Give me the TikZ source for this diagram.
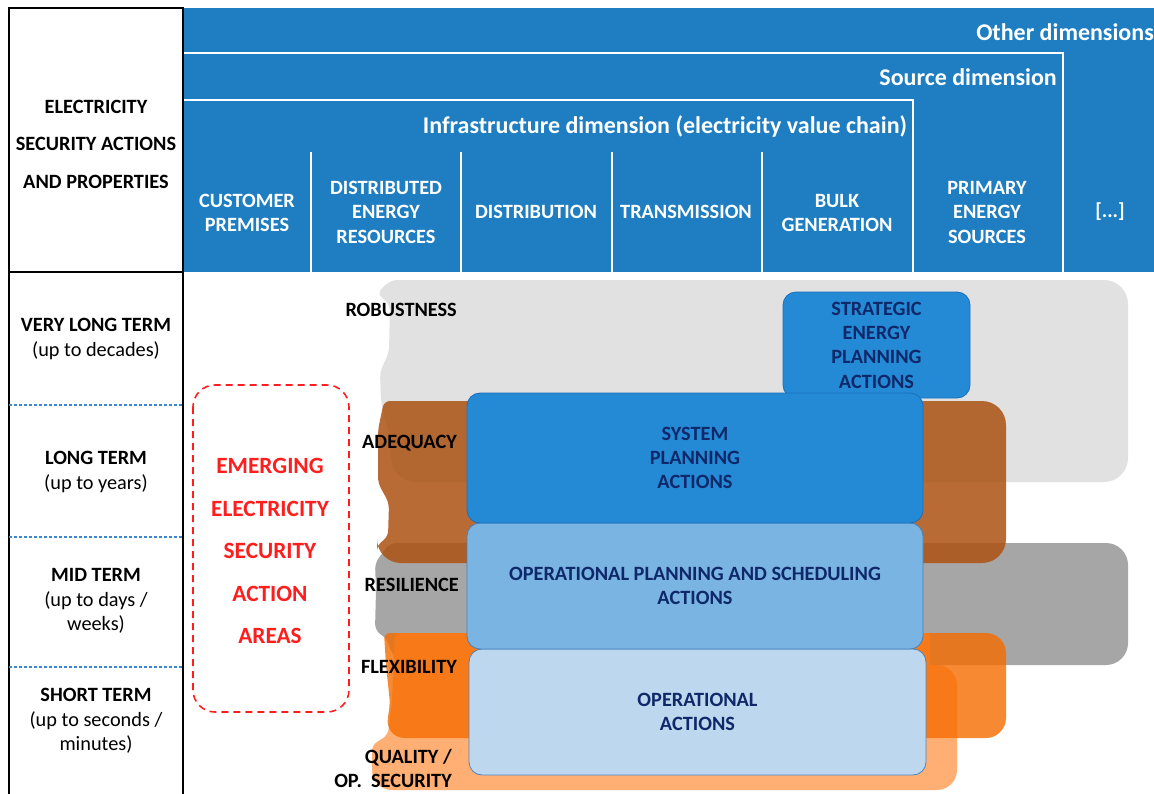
\documentclass[tikz,border=0pt]{standalone}
\usepackage{fontspec}
\setmainfont{Carlito}
\definecolor{hblue}{RGB}{30,126,193}
\definecolor{navy}{RGB}{14,40,105}
\definecolor{lgray}{RGB}{225,225,225}
\definecolor{dgray}{RGB}{166,166,166}
\definecolor{brownc}{RGB}{172,82,18}
\definecolor{orangec}{RGB}{245,108,0}
\definecolor{lorange}{RGB}{255,175,115}
\definecolor{bsys}{RGB}{37,138,214}
\definecolor{bsysd}{RGB}{25,110,185}
\definecolor{bop}{RGB}{122,180,226}
\definecolor{bopd}{RGB}{70,130,190}
\definecolor{bact}{RGB}{189,215,238}
\definecolor{bactd}{RGB}{80,130,190}
\definecolor{redc}{RGB}{255,30,30}
\definecolor{dashblue}{RGB}{60,135,210}
\begin{document}
\begin{tikzpicture}[x=1pt,y=-1pt,
  hdr/.style={text=white, font=\bfseries\fontsize{20.3}{24.5}\selectfont, align=center, inner sep=0},
  dimt/.style={text=white, font=\bfseries\fontsize{24}{28}\selectfont, inner sep=0},
  rowlbl/.style={align=center, inner sep=0, font=\fontsize{20.3}{24.5}\selectfont},
  prop/.style={font=\bfseries\fontsize{20.3}{24}\selectfont, inner sep=0, anchor=east, align=right},
  abox/.style={rounded corners=13, text=navy, font=\bfseries\fontsize{20.3}{24.3}\selectfont, align=center, inner sep=0, line width=0.8},
  redt/.style={text=redc, font=\bfseries\fontsize{23.3}{42.5}\selectfont, align=center, inner sep=0}
]
\useasboundingbox (0,0) rectangle (1154,793);
\fill[white] (0,0) rectangle (1154,793);

% ---------- header ----------
\fill[hblue] (183,8) rectangle (1154,272);
\draw[white, line width=2] (183,53) -- (1063,53) -- (1063,272);
\draw[white, line width=2] (183,100) -- (913,100) -- (913,272);
\foreach \x in {311,461,612,762} \draw[white, line width=1.5] (\x,152) -- (\x,272);

\node[dimt, anchor=base east] (oth) at (1154,40) {Other dimensions};
\node[dimt, anchor=base east] (src) at (1057,85) {Source dimension};
\node[dimt, anchor=base] (infra) at (665,133) {Infrastructure dimension (electricity value chain)};

\node[hdr] (cust) at (247,213) {CUSTOMER\\PREMISES};
\node[hdr] (der) at (386,212) {DISTRIBUTED\\ENERGY\\RESOURCES};
\node[hdr] (dist) at (536,212) {DISTRIBUTION};
\node[hdr] (trans) at (686,212) {TRANSMISSION};
\node[hdr] (bulk) at (837,213) {BULK\\GENERATION};
\node[hdr] (prim) at (987,212) {PRIMARY\\ENERGY\\SOURCES};
\node[hdr] (etc) at (1110,212) {[...]};

% ---------- left column ----------
\draw[black, line width=1.3] (9,8) rectangle (183,272);
\draw[black, line width=1.3] (9,272) -- (9,800);
\draw[black, line width=1.3] (183,272) -- (183,800);
\foreach \y in {405,537,667} \draw[dashblue, line width=1.2, dash pattern=on 3pt off 2pt] (9,\y) -- (183,\y);

\node[align=center, inner sep=0, font=\bfseries\fontsize{20.3}{37.5}\selectfont] (title) at (96,144) {ELECTRICITY\\SECURITY ACTIONS\\AND PROPERTIES};
\node[rowlbl] (vlt) at (96,339) {\textbf{VERY LONG TERM}\\(up to decades)};
\node[rowlbl] (lt) at (96,472) {\textbf{LONG TERM}\\(up to years)};
\node[rowlbl] (mt) at (96,601) {\textbf{MID TERM}\\(up to days /\\weeks)};
\node[rowlbl] (st) at (96,721) {\textbf{SHORT TERM}\\(up to seconds /\\minutes)};

% ---------- emerging areas ----------
\draw[redc, line width=1.6, dash pattern=on 7pt off 5pt, rounded corners=22] (193,385) rectangle (349,712);
\node[redt] (emerg) at (270,551) {EMERGING\\ELECTRICITY\\SECURITY\\ACTION\\AREAS};

% ---------- property bands ----------
% robustness
\fill[lgray] (391,280) [rounded corners=24] -- (1128,280) -- (1128,482) -- (392,482) [rounded corners=6] -- (390,440) -- (381,402) -- (380,372) -- (389,352) -- (390,305) -- (377,293) -- cycle;
% resilience
\fill[dgray] (390,543) [rounded corners=22] -- (1128,543) -- (1128,665) -- (392,665) [rounded corners=6] -- (388,640) -- (375,630) -- (376,590) -- (375,563) -- cycle;
% quality / op. security
\fill[lorange] (395,633) -- (930,633) -- (930,665) [rounded corners=20] -- (957,665) -- (957,790) -- (372,790) [rounded corners=6] -- (372,745) -- (388,735) -- (392,700) -- cycle;
% adequacy (semi-transparent)
\fill[brownc, fill opacity=0.85] (384,401) [rounded corners=24] -- (1006,401) -- (1006,563) -- (377,563) [rounded corners=6] -- (377,545) -- (388,537) -- (389,503) -- (378,483) -- (378,430) -- cycle;
% flexibility (semi-transparent)
\fill[orangec, fill opacity=0.8] (384,633) [rounded corners=20] -- (1006,633) -- (1006,738) -- (385,738) [rounded corners=6] -- (390,703) -- (386,665) -- cycle;

% property labels
\node[prop] (rob) at (457,310) {ROBUSTNESS};
\node[prop] (adq) at (457,443) {ADEQUACY};
\node[prop] (res) at (459,585) {RESILIENCE};
\node[prop] (flex) at (457,667) {FLEXIBILITY};
\node[prop] (qual) at (452,768) {QUALITY /\\OP.\ \ SECURITY};

% ---------- action boxes ----------
\node[abox, fill=bsys, draw=bsysd, minimum width=187, minimum height=106] (strat) at (876.5,345) {STRATEGIC\\ENERGY\\PLANNING\\ACTIONS};
\node[abox, fill=bact, draw=bactd, minimum width=457, minimum height=126] (opact) at (697.5,712) {OPERATIONAL\\ACTIONS};
\node[abox, fill=bop, draw=bopd, minimum width=456, minimum height=126] (opplan) at (695,586) {OPERATIONAL PLANNING AND SCHEDULING\\ACTIONS};
\node[abox, fill=bsys, draw=bsysd, minimum width=456, minimum height=130] (sys) at (695,458) {SYSTEM\\PLANNING\\ACTIONS};
\end{tikzpicture}
\end{document}
